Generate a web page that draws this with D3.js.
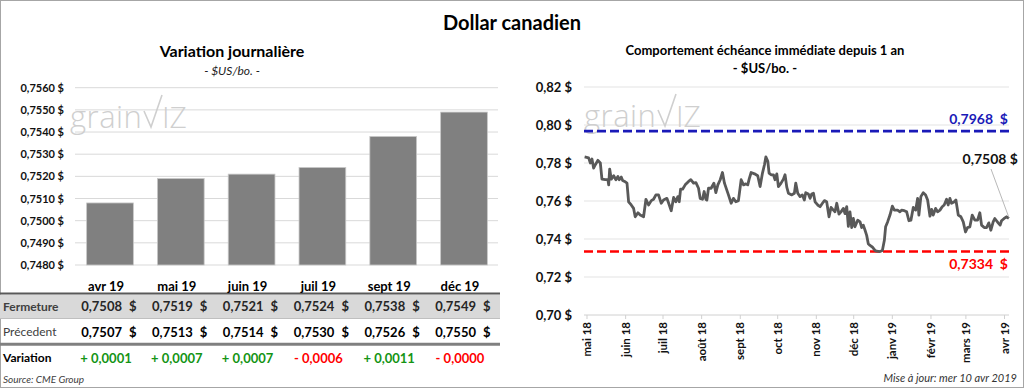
<!DOCTYPE html>
<html><head><meta charset="utf-8">
<script src="https://cdn.jsdelivr.net/npm/d3@7"></script>
<style>
html,body{margin:0;padding:0;background:#fff;}
svg{display:block;font-family:Lato,"Open Sans",sans-serif;}
</style></head>
<body>
<script>
// ---------- DATA ----------
const months = ["avr 19","mai 19","juin 19","juil 19","sept 19","déc 19"];
const fermeture = [0.7508,0.7519,0.7521,0.7524,0.7538,0.7549];
const precedent = [0.7507,0.7513,0.7514,0.7530,0.7526,0.7550];
const variation = [0.0001,0.0007,0.0007,-0.0006,0.0011,-0.00004];
const leftTicks = [0.748,0.749,0.750,0.751,0.752,0.753,0.754,0.755,0.756];

// right chart: days since 2018-05-01 and price
const days = [-1.9,1.3,2.7,4.0,5.3,6.7,8.8,10.7,12.0,14.7,16.8,17.4,18.2,19.5,21.4,23.2,24.8,25.9,27.5,28.6,30.2,32.1,33.4,35.5,37.4,38.7,40.9,42.7,45.4,47.3,
49.4,51.6,53.4,55.3,57.4,59.6,61.4,64.1,65.4,67.6,69.5,71.3,72.9,74.0,75.1,76.7,78.8,81.5,83.3,85.5,87.4,89.5,90.8,92.7,94.0,95.4,96.2,97.5,99.6,101.8,
103.4,105.0,106.9,108.7,110.3,113.5,115.7,117.5,119.4,121.5,123.7,125.6,127.4,129.0,130.1,131.7,134.4,137.0,138.9,140.8,142.4,143.5,145.1,146.1,147.7,149.6,150.9,152.3,153.6,155.7,
157.6,158.9,160.3,161.6,164.3,166.4,167.5,169.1,171.0,172.8,174.4,175.5,177.6,179.0,180.3,181.7,183.0,185.1,187.0,188.9,190.5,192.3,194.2,195.8,197.7,199.0,200.4,202.2,203.8,205.7,
207.0,208.4,209.7,211.0,212.4,213.7,215.0,217.2,219.1,220.4,221.7,223.1,224.4,225.7,227.1,228.9,231.1,232.4,235.1,237.0,238.6,239.6,241.2,243.1,245.0,246.6,249.2,251.1,252.4,254.6,
256.5,258.3,259.9,261.8,263.7,265.3,266.3,267.9,269.8,271.7,273.3,275.2,276.5,277.8,279.7,281.3,283.2,285.0,286.6,288.5,289.8,291.2,292.5,294.7,296.0,297.9,300.0,301.9,303.7,305.3,
307.2,309.1,311.2,313.4,315.2,316.6,318.7,320.6,322.4,324.0,325.9,327.2,328.6,329.9,331.5,332.6,334.7,336.6,338.5];
const prices = [0.7832,0.7827,0.7800,0.7821,0.7773,0.7791,0.7814,0.7800,0.7715,0.7712,0.7712,0.7685,0.7768,0.7715,0.7733,0.7712,0.7729,0.7712,0.7726,0.7708,0.7703,0.7694,0.7596,0.7579,0.7561,0.7517,0.7538,0.7526,0.7517,0.7609,
0.7579,0.7602,0.7609,0.7632,0.7632,0.7588,0.7605,0.7614,0.7591,0.7549,0.7619,0.7596,0.7623,0.7596,0.7662,0.7662,0.7685,0.7703,0.7712,0.7694,0.7697,0.7667,0.7614,0.7609,0.7650,0.7609,0.7605,0.7667,0.7667,0.7694,
0.7644,0.7685,0.7712,0.7750,0.7694,0.7632,0.7588,0.7614,0.7596,0.7602,0.7712,0.7685,0.7690,0.7685,0.7715,0.7750,0.7743,0.7733,0.7676,0.7747,0.7791,0.7832,0.7809,0.7747,0.7738,0.7738,0.7712,0.7743,0.7676,0.7694,
0.7715,0.7738,0.7673,0.7641,0.7632,0.7641,0.7694,0.7641,0.7623,0.7632,0.7605,0.7644,0.7637,0.7614,0.7637,0.7641,0.7596,0.7579,0.7570,0.7588,0.7602,0.7596,0.7517,0.7566,0.7552,0.7543,0.7588,0.7531,0.7543,0.7561,
0.7534,0.7570,0.7467,0.7543,0.7460,0.7508,0.7464,0.7499,0.7490,0.7460,0.7473,0.7446,0.7419,0.7375,0.7366,0.7358,0.7340,0.7336,0.7334,0.7340,0.7393,0.7464,0.7490,0.7526,0.7573,0.7552,0.7552,0.7543,0.7552,0.7549,
0.7543,0.7496,0.7499,0.7566,0.7552,0.7614,0.7526,0.7623,0.7644,0.7632,0.7605,0.7520,0.7556,0.7526,0.7561,0.7543,0.7552,0.7570,0.7579,0.7609,0.7579,0.7614,0.7588,0.7596,0.7605,0.7526,0.7517,0.7490,0.7437,0.7460,
0.7464,0.7526,0.7499,0.7499,0.7538,0.7473,0.7460,0.7460,0.7485,0.7446,0.7490,0.7508,0.7496,0.7485,0.7473,0.7496,0.7508,0.7517,0.7508];
const rightTicks = [0.70,0.72,0.74,0.76,0.78,0.80,0.82];
const tickMonths = [0,31,61,92,123,153,184,214,245,276,304,335];
const tickLabels = ["mai 18","juin 18","juil 18","août 18","sept 18","oct 18","nov 18","déc 18","janv 19","févr 19","mars 19","avr 19"];
const high = 0.7968, low = 0.7334, last = 0.7508;

// ---------- HELPERS ----------
const W = 1024, H = 388;
const fr4 = v => v.toFixed(4).replace(".", ",");
const fr2 = v => v.toFixed(2).replace(".", ",");
const base = Date.UTC(2018,4,1);
const toDate = d => new Date(base + d*864e5);

const svg = d3.select("body").append("svg").attr("width",W).attr("height",H);
svg.append("rect").attr("x",0.5).attr("y",0.5).attr("width",W-1).attr("height",H-1)
  .attr("fill","#fff").attr("stroke","#a6a6a6");

svg.append("text").attr("x",512).attr("y",30).attr("text-anchor","middle")
  .attr("font-size",20).attr("font-weight","bold").attr("fill","#000").text("Dollar canadien");

function watermark(x,y){
  const g = svg.append("g").attr("fill","#cfcfcf");
  g.append("text").attr("x",x).attr("y",y).attr("font-size",31).attr("font-family","'Open Sans', sans-serif")
   .attr("font-weight","300").attr("letter-spacing",0.5).text("grain");
  g.append("path").attr("d",`M${x+74},${y-17} L${x+81},${y-1} L${x+92},${y-33}`)
   .attr("fill","none").attr("stroke","#cfcfcf").attr("stroke-width",1.6);
  g.append("text").attr("x",x+92).attr("y",y).attr("font-size",30).attr("font-family","'Open Sans', sans-serif")
   .attr("font-weight","300").text("IZ");
}

// ---------- LEFT CHART ----------
svg.append("text").attr("x",232).attr("y",57).attr("text-anchor","middle")
  .attr("font-size",16).attr("font-weight","bold").text("Variation journalière");
svg.append("text").attr("x",232).attr("y",75).attr("text-anchor","middle")
  .attr("font-size",12).attr("font-style","italic").attr("fill","#222").text("- $US/bo. -");

const yL = d3.scaleLinear().domain([0.748,0.756]).range([265,87.7]);
const xB = d3.scaleBand().domain(months).range([74.6,499.4]).paddingInner(0.34).paddingOuter(0.17);

svg.append("g").selectAll("line").data(leftTicks).join("line")
  .attr("x1",75).attr("x2",498).attr("y1",d=>yL(d)).attr("y2",d=>yL(d))
  .attr("stroke","#d9d9d9").attr("stroke-width",1);
svg.append("g").selectAll("text").data(leftTicks).join("text")
  .attr("x",64).attr("y",d=>yL(d)+4).attr("text-anchor","end")
  .attr("font-size",11).attr("font-weight","bold").attr("fill","#111").text(d=>fr4(d)+" $");

watermark(70,128);

svg.append("g").selectAll("rect").data(fermeture).join("rect")
  .attr("x",(d,i)=>xB(months[i])).attr("width",xB.bandwidth())
  .attr("y",d=>yL(d)).attr("height",d=>yL(0.748)-yL(d))
  .attr("fill","#808080").attr("stroke","#c8c8c8").attr("stroke-width",0.8);

// table
const cx = i => xB(months[i]) + xB.bandwidth()/2;
svg.append("rect").attr("x",0).attr("y",294.5).attr("width",500).attr("height",23.5).attr("fill","#d9d9d9");
svg.append("line").attr("x1",0).attr("x2",500).attr("y1",293.5).attr("y2",293.5).attr("stroke","#595959").attr("stroke-width",2.2);
svg.append("line").attr("x1",0).attr("x2",500).attr("y1",318.5).attr("y2",318.5).attr("stroke","#bfbfbf").attr("stroke-width",1);
svg.append("line").attr("x1",0).attr("x2",500).attr("y1",344.3).attr("y2",344.3).attr("stroke","#808080").attr("stroke-width",3);

svg.append("g").selectAll("text").data(months).join("text")
  .attr("x",(d,i)=>cx(i)-4).attr("y",291).attr("text-anchor","middle")
  .attr("font-size",13).attr("font-weight","bold").text(d=>d);

function valueRow(arr,y,color){
  const g = svg.append("g").attr("font-size",13).attr("font-weight","bold").attr("fill",color);
  g.selectAll("text.n").data(arr).join("text").attr("class","n")
    .attr("x",(d,i)=>cx(i)+12).attr("y",y).attr("text-anchor","end").text(d=>fr4(d));
  g.selectAll("text.s").data(arr).join("text").attr("class","s")
    .attr("x",(d,i)=>cx(i)+19).attr("y",y).text("$");
}
valueRow(fermeture,311,"#262626");
valueRow(precedent,337,"#000");

svg.append("g").selectAll("text").data(variation).join("text")
  .attr("x",(d,i)=>cx(i)-4).attr("y",363).attr("text-anchor","middle")
  .attr("font-size",13).attr("font-weight","bold")
  .attr("fill",d=>d>=0?"#149414":"#ff0000")
  .text(d=>(d>=0?"+ ":"- ")+fr4(Math.abs(d)));

svg.append("text").attr("x",3).attr("y",311).attr("font-size",12).attr("font-weight","bold").attr("fill","#404040").text("Fermeture");
svg.append("text").attr("x",3).attr("y",336).attr("font-size",12).attr("fill","#404040").text("Précedent");
svg.append("text").attr("x",3).attr("y",362).attr("font-size",12).attr("font-weight","bold").attr("fill","#000").text("Variation");
svg.append("text").attr("x",3).attr("y",383).attr("font-size",10).attr("font-style","italic").attr("fill","#404040").text("Source: CME Group");

// ---------- RIGHT CHART ----------
svg.append("text").attr("x",765).attr("y",55).attr("text-anchor","middle")
  .attr("font-size",13).attr("font-weight","bold").text("Comportement échéance immédiate depuis 1 an");
svg.append("text").attr("x",765).attr("y",73).attr("text-anchor","middle")
  .attr("font-size",13).attr("font-weight","bold").text("- $US/bo. -");

const yR = d3.scaleLinear().domain([0.70,0.82]).range([315,87]);
const xT = d3.scaleUtc().domain([toDate(-2.4),toDate(338.6)]).range([584,1009]);

svg.append("g").selectAll("line").data(rightTicks).join("line")
  .attr("x1",584).attr("x2",1009).attr("y1",d=>yR(d)).attr("y2",d=>yR(d))
  .attr("stroke",d=>d===0.70?"#d0d0d0":"#e3e3e3").attr("stroke-width",1);
svg.append("g").selectAll("text").data(rightTicks).join("text")
  .attr("x",572).attr("y",d=>yR(d)+5).attr("text-anchor","end")
  .attr("font-size",13).attr("font-weight","bold").attr("fill","#111").text(d=>fr2(d)+" $");

svg.append("g").selectAll("line").data(tickMonths).join("line")
  .attr("x1",d=>xT(toDate(d))).attr("x2",d=>xT(toDate(d))).attr("y1",315).attr("y2",319)
  .attr("stroke","#d0d0d0");
svg.append("g").selectAll("text").data(tickMonths).join("text")
  .attr("transform",(d,i)=>`translate(${xT(toDate(d))+4},322) rotate(-90)`)
  .attr("text-anchor","end").attr("font-size",11.5).attr("font-weight","bold").attr("fill","#111")
  .text((d,i)=>tickLabels[i]);

watermark(584,127);

svg.append("line").attr("x1",584).attr("x2",1009).attr("y1",yR(high)).attr("y2",yR(high))
  .attr("stroke","#1a1ab8").attr("stroke-width",2.6).attr("stroke-dasharray","9,4");
svg.append("line").attr("x1",584).attr("x2",1009).attr("y1",yR(low)).attr("y2",yR(low))
  .attr("stroke","#ff0000").attr("stroke-width",2.6).attr("stroke-dasharray","9,4");

const line = d3.line().x((d,i)=>xT(toDate(days[i]))).y(d=>yR(d));
svg.append("path").datum(prices).attr("d",line).attr("fill","none")
  .attr("stroke","#595959").attr("stroke-width",2.8).attr("stroke-linejoin","round");

svg.append("text").attr("x",1008).attr("y",124).attr("text-anchor","end")
  .attr("font-size",14).attr("font-weight","bold").attr("fill","#1a1ab8").attr("xml:space","preserve").text(fr4(high)+"  $");
svg.append("text").attr("x",1008).attr("y",269).attr("text-anchor","end")
  .attr("font-size",14).attr("font-weight","bold").attr("fill","#ff0000").attr("xml:space","preserve").text(fr4(low)+"  $");
const lx = xT(toDate(days[days.length-1])), ly = yR(last);
svg.append("line").attr("x1",991).attr("y1",169).attr("x2",lx).attr("y2",ly-1).attr("stroke","#a6a6a6").attr("stroke-width",0.8);
svg.append("text").attr("x",1018).attr("y",164).attr("text-anchor","end")
  .attr("font-size",14).attr("font-weight","bold").attr("fill","#111").text(fr4(last)+" $");

svg.append("text").attr("x",1017).attr("y",382).attr("text-anchor","end")
  .attr("font-size",11).attr("font-style","italic").attr("fill","#333").text("Mise à jour: mer 10 avr 2019");
</script>
</body></html>
